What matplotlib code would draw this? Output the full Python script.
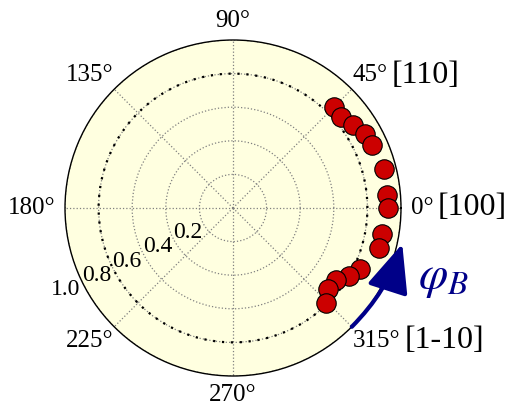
import numpy as np
import matplotlib
matplotlib.use('Agg')
import matplotlib.pyplot as plt

plt.rcParams['font.family'] = ['Liberation Serif', 'DejaVu Serif']
plt.rcParams['mathtext.fontset'] = 'stix'

# Measured points (angle in degrees, normalised amplitude)
phi_deg = [45, 40, 34.5, 29.5, 24.5, 14.5, 5, 0, -10, -15.5, -25.5, -30.5, -35, -40.5, -45.5]
amp = [0.85, 0.84, 0.87, 0.90, 0.91, 0.93, 0.92, 0.92, 0.90, 0.90, 0.84, 0.80, 0.75, 0.74, 0.79]

ref_radius = 0.8
r_ticks = [0.2, 0.4, 0.6, 0.8, 1.0]
r_labels = ['0.2', '0.4', '0.6', '0.8', '1.0']
theta_ticks = [0, 45, 90, 135, 180, 225, 270, 315]
theta_labels = ['0°', '45°', '90°', '135°', '180°', '225°', '270°', '315°']
# crystal directions written after some of the angle labels
directions = {45: '[110]', 0: '[100]', 315: '[1-10]'}

fig = plt.figure(figsize=(5.11, 4.09), dpi=100)
ax = fig.add_axes([65/511, 33/409, 336/511, 336/409], projection='polar')
ax.set_facecolor('lightyellow')

# dotted reference circle
tt = np.linspace(0, 2*np.pi, 400)
ax.plot(tt, np.full_like(tt, ref_radius), color='black', ls=(0, (1, 3)), lw=1.6)

ax.plot(np.radians(phi_deg), amp, 'o', color='#cc0000', mec='black',
        mew=0.8, ms=14, zorder=5, clip_on=False)

ax.set_ylim(0, 1.0)
ax.set_rgrids(r_ticks, labels=['']*len(r_ticks))
ax.set_thetagrids(theta_ticks, labels=['']*len(theta_ticks))
ax.grid(True, color='grey', ls=':', lw=0.9)
ax.spines['polar'].set_linewidth(1.0)

# angle labels, aligned by quadrant like the old matplotlib polar plots
for deg, lab in zip(theta_ticks, theta_labels):
    c, s = np.cos(np.radians(deg)), np.sin(np.radians(deg))
    ha = 'left' if c > 0.1 else ('right' if c < -0.1 else 'center')
    va = 'bottom' if s > 0.1 else ('top' if s < -0.1 else 'center')
    if deg % 90 == 0:
        off = (7*c, 6*s)
    else:
        off = (0.5*np.sign(c), 2*np.sign(s))
    t = ax.annotate(lab, xy=(np.radians(deg), 1.0), xytext=off,
                    textcoords='offset points', ha=ha, va=va, fontsize=18,
                    annotation_clip=False)
    if deg in directions:
        ax.annotate(directions[deg], xy=(1, 0), xycoords=t, xytext=(3, -2.5),
                    textcoords='offset points', ha='left', va='bottom',
                    fontsize=23, annotation_clip=False)

for r, lab in zip(r_ticks, r_labels):
    ax.text(np.radians(205), r, lab, ha='right', va='top', fontsize=17)

# rotation arrow
ax.annotate('', xy=(np.radians(-12), 1.03), xytext=(np.radians(-45), 1.0),
            arrowprops=dict(arrowstyle='-|>,head_length=3.0,head_width=1.3',
                            color='#000088', lw=3,
                            connectionstyle='arc3,rad=0.12',
                            shrinkA=0, shrinkB=0),
            annotation_clip=False)
ax.text(1.125, 0.29, r'$\varphi_B$', transform=ax.transAxes, fontsize=34,
        color='#000088', ha='center', va='center')

fig.savefig('out.png', dpi=100)
